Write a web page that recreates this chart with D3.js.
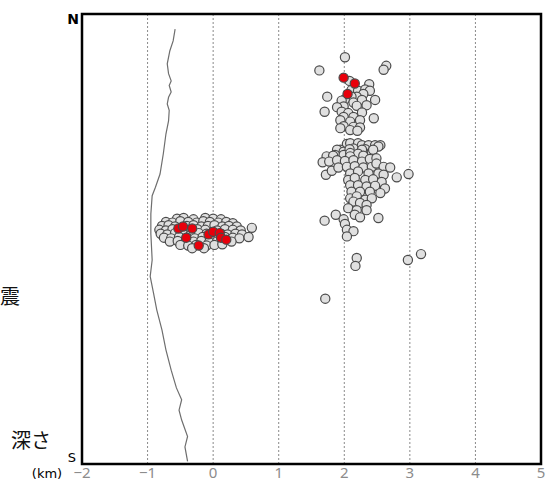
<!DOCTYPE html>
<html lang="ja">
<head>
<meta charset="utf-8">
<script src="https://d3js.org/d3.v7.min.js"></script>
<style>
  body { margin: 0; background: #fff; }
  .grid line { stroke: #8a8a8a; stroke-width: 1; stroke-dasharray: 2,2; }
  .tick-label { font-family: "Noto Sans", sans-serif; font-size: 15px; fill: #8c8c8c; text-anchor: middle; }
  .quake { stroke: #4a4a4a; stroke-width: 1.2; }
  .jp { font-family: "Noto Sans CJK JP", sans-serif; font-size: 20px; fill: #111; }
</style>
</head>
<body>
<div id="chart"></div>
<script>
// x: km east-west, y: km from north edge (N at top, S at bottom)
var xTicks = [-2, -1, 0, 1, 2, 3, 4, 5];
var gridTicks = [-1, 0, 1, 2, 3, 4];

// coastline trace [x, y]
var coastline = [
  [-0.58,0.23],[-0.61,0.41],[-0.66,0.56],[-0.70,0.76],[-0.68,0.91],[-0.64,1.02],[-0.67,1.09],
  [-0.64,1.19],[-0.68,1.27],[-0.70,1.37],[-0.67,1.47],[-0.68,1.63],[-0.72,1.83],[-0.76,2.13],
  [-0.81,2.44],[-0.88,2.64],[-0.93,2.77],[-0.95,3.05],[-0.95,3.35],[-0.93,3.75],[-0.96,4.00],
  [-0.91,4.25],[-0.86,4.51],[-0.78,4.82],[-0.72,5.12],[-0.64,5.43],[-0.56,5.70],[-0.48,5.88],
  [-0.52,6.04],[-0.48,6.19],[-0.39,6.44],[-0.43,6.60],[-0.39,6.82]
];

// hypocentres (gray)
var grayWest = [
  [-0.55,3.12],[-0.45,3.11],[-0.30,3.13],[-0.12,3.11],[0.00,3.12],[0.12,3.13],
  [-0.72,3.17],[-0.62,3.18],[-0.50,3.16],[-0.38,3.17],[-0.25,3.18],[-0.15,3.16],[-0.05,3.17],[0.08,3.18],[0.20,3.17],[0.30,3.19],
  [-0.78,3.23],[-0.68,3.22],[-0.58,3.24],[-0.40,3.23],[-0.30,3.22],[-0.18,3.24],[-0.08,3.23],[0.02,3.22],[0.14,3.24],[0.24,3.23],[0.36,3.24],
  [-0.82,3.29],[-0.72,3.30],[-0.62,3.28],[-0.48,3.29],[-0.36,3.30],[-0.24,3.28],[-0.12,3.29],[0.06,3.30],[0.18,3.28],[0.30,3.29],[0.42,3.30],
  [-0.80,3.35],[-0.70,3.36],[-0.58,3.34],[-0.46,3.35],[-0.34,3.36],[-0.22,3.34],[-0.10,3.35],[0.00,3.37],[0.12,3.35],[0.22,3.36],[0.34,3.35],[0.44,3.36],
  [-0.75,3.41],[-0.64,3.42],[-0.52,3.40],[-0.40,3.41],[-0.28,3.42],[-0.16,3.40],[-0.04,3.41],[0.08,3.42],[0.18,3.40],[0.30,3.41],[0.40,3.42],
  [-0.66,3.47],[-0.54,3.46],[-0.42,3.48],[-0.30,3.47],[-0.18,3.46],[-0.06,3.48],[0.06,3.47],[0.16,3.46],[0.28,3.47],
  [-0.50,3.52],[-0.38,3.53],[-0.26,3.52],[-0.10,3.53],[0.02,3.52],[0.14,3.51],
  [-0.32,3.57],[-0.14,3.57],
  [0.59,3.26],[0.54,3.40]
];
var grayEast = [
  [2.01,0.66],[1.62,0.86],[2.64,0.79],[2.60,0.85],[2.08,1.02],[2.38,1.07],[1.74,1.26],[2.11,1.16],
  [2.21,1.17],[2.32,1.15],[2.39,1.17],[2.29,1.22],[2.19,1.26],[2.11,1.26],[2.01,1.30],[1.96,1.32],
  [2.14,1.35],[2.27,1.31],[2.47,1.31],[2.34,1.39],[2.19,1.40],[1.99,1.41],[1.89,1.42],[1.70,1.49],
  [1.96,1.49],[2.06,1.51],[2.27,1.50],[1.99,1.57],[2.14,1.57],[2.45,1.59],[1.94,1.62],[2.09,1.64],
  [2.24,1.62],[1.99,1.71],[2.14,1.72],[1.94,1.74],[2.24,1.73],[2.09,1.77],[2.20,1.78],
  [2.04,1.98],[2.09,1.97],[2.21,1.97],[2.27,2.00],[2.37,2.00],[2.47,2.00],[2.55,2.00],[2.52,2.02],
  [1.94,2.07],[2.14,2.05],[2.32,2.06],[2.42,2.10],[1.89,2.07],[1.99,2.10],[2.08,2.06],[2.27,2.07],[2.44,2.07],
  [1.86,2.15],[1.99,2.15],[2.09,2.12],[2.21,2.13],[1.73,2.17],[1.83,2.16],[2.09,2.17],[2.29,2.16],
  [1.67,2.26],[1.77,2.25],[1.89,2.23],[2.01,2.24],[2.14,2.23],[2.27,2.25],[2.39,2.21],[2.49,2.20],
  [1.72,2.45],[1.81,2.39],[1.91,2.34],[2.04,2.33],[2.16,2.32],[2.29,2.34],[2.42,2.33],[2.49,2.28],[2.60,2.33],[2.70,2.34],
  [2.80,2.49],[2.98,2.44],
  [2.09,2.43],[2.21,2.40],[2.37,2.43],[2.52,2.43],[2.60,2.45],
  [2.06,2.53],[2.16,2.50],[2.32,2.53],[2.44,2.52],[2.57,2.56],
  [2.09,2.61],[2.21,2.61],[2.34,2.63],[2.47,2.62],[2.62,2.66],
  [2.11,2.71],[2.24,2.71],[2.39,2.71],[2.55,2.73],
  [2.09,2.81],[2.19,2.78],[2.32,2.83],[2.42,2.81],
  [2.14,2.86],[2.24,2.88],[2.34,2.91],
  [2.06,2.96],[2.19,2.99],[2.34,2.99],
  [2.16,3.06],[2.24,3.10],[2.52,3.11],
  [1.70,3.15],[1.87,3.06],[1.99,3.13],[2.01,3.20],[2.04,3.29],[2.14,3.31],[2.04,3.39],
  [2.19,3.72],[2.17,3.84],[2.97,3.75],[3.17,3.66],[1.71,4.34]
];
// hypocentres (red)
var redQuakes = [
  [-0.53,3.27],[-0.46,3.24],[-0.32,3.27],[-0.41,3.41],[-0.22,3.53],
  [-0.07,3.36],[0.00,3.32],[0.10,3.34],[0.12,3.41],[0.20,3.44],
  [1.99,0.97],[2.16,1.06],[2.05,1.22]
];

var W = 547, H = 483;
var margin = {top: 14, right: 6, bottom: 19, left: 82};

var x = d3.scaleLinear().domain([-2, 5]).range([margin.left, W - margin.right]);
var y = d3.scaleLinear().domain([0, 6.86]).range([margin.top, H - margin.bottom]);

var svg = d3.select("#chart").append("svg")
  .attr("width", W).attr("height", H);

// dotted grid
svg.append("g").attr("class", "grid")
  .selectAll("line").data(gridTicks).enter().append("line")
    .attr("x1", d => x(d)).attr("x2", d => x(d))
    .attr("y1", y(0)).attr("y2", y(6.86));

// coastline
svg.append("path")
  .datum(coastline)
  .attr("fill", "none")
  .attr("stroke", "#6e6e6e")
  .attr("stroke-width", 1.2)
  .attr("d", d3.line().x(d => x(d[0])).y(d => y(d[1])));

// quakes
function drawQuakes(data, fill) {
  svg.append("g").selectAll("circle").data(data).enter().append("circle")
    .attr("class", "quake")
    .attr("cx", d => x(d[0]))
    .attr("cy", d => y(d[1]))
    .attr("r", 4.6)
    .attr("fill", fill);
}
drawQuakes(grayWest.concat(grayEast), "#e0e0e0");
drawQuakes(redQuakes, "#e8000b");

// frame
svg.append("rect")
  .attr("x", x(-2)).attr("y", y(0))
  .attr("width", x(5) - x(-2)).attr("height", y(6.86) - y(0))
  .attr("fill", "none").attr("stroke", "#000").attr("stroke-width", 2.5);

// x tick labels
svg.append("g").selectAll("text").data(xTicks).enter().append("text")
  .attr("class", "tick-label")
  .attr("x", d => x(d))
  .attr("y", 478)
  .text(d => d < 0 ? "\u2212" + Math.abs(d) : d);

// labels
svg.append("text").attr("x", 73).attr("y", 24)
  .style("font-family", "'DejaVu Sans', sans-serif").style("font-size", "14px")
  .style("font-weight", "bold").style("text-anchor", "middle").text("N");
svg.append("text").attr("x", 72).attr("y", 462)
  .style("font-family", "'DejaVu Sans', sans-serif").style("font-size", "13px")
  .style("text-anchor", "middle").text("S");
svg.append("text").attr("x", 47).attr("y", 478)
  .style("font-family", "'DejaVu Sans', sans-serif").style("font-size", "13px")
  .style("text-anchor", "middle").text("(km)");
svg.append("text").attr("class", "jp").attr("x", 0).attr("y", 304).text("震");
svg.append("text").attr("class", "jp").attr("x", 11).attr("y", 448).text("深さ");
</script>
</body>
</html>
